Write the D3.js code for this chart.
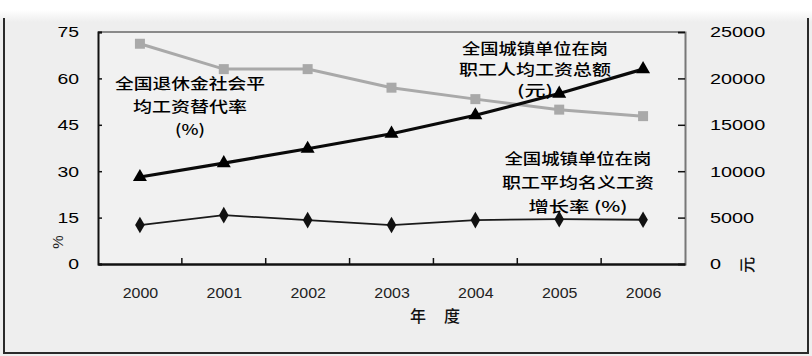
<!DOCTYPE html>
<html>
<head>
<meta charset="utf-8">
<script src="https://cdn.jsdelivr.net/npm/d3@7"></script>
<style>
  body { margin: 0; background: #fff; }
  svg { display: block; }
</style>
</head>
<body>
<svg id="chart" width="812" height="356"></svg>
<script>
// Years on the category axis
const years = ["2000", "2001", "2002", "2003", "2004", "2005", "2006"];
// Pension replacement rate (%), left axis
const replacementRate = [71.2, 63.0, 63.0, 57.0, 53.3, 49.9, 47.8];
// Nominal average wage growth (%), left axis
const wageGrowth = [12.6, 15.8, 14.2, 12.6, 14.2, 14.5, 14.3];
// Average annual wage (yuan), right axis
const avgWage = [9371, 10870, 12422, 14040, 16024, 18364, 21001];
// Tick values
const pctTicks = [0, 15, 30, 45, 60, 75];
const yuanTicks = [0, 5000, 10000, 15000, 20000, 25000];
// Tick labels of the category axis (as printed)
const yearLabels = ["2000", "2001", "2002", "2003", "2004", "2005", "2006"];

const svg = d3.select("#chart");
const W = 812, H = 356;
const plot = { left: 98, right: 685, top: 32, bottom: 264 };

// widen a text element horizontally by factor k
function stretch(sel, k) {
  sel.each(function () {
    const w = this.getComputedTextLength();
    this.setAttribute("textLength", w * k);
    this.setAttribute("lengthAdjust", "spacingAndGlyphs");
  });
}

// Page background and frame
const defs = svg.append("defs");
const grad = defs.append("linearGradient").attr("id", "topfade")
  .attr("x1", 0).attr("x2", 0).attr("y1", 0).attr("y2", 1);
grad.append("stop").attr("offset", "0%").attr("stop-color", "#ffffff");
grad.append("stop").attr("offset", "100%").attr("stop-color", "#eeeeee");

svg.append("rect").attr("width", W).attr("height", H).attr("fill", "#ffffff");
svg.append("rect").attr("x", 0).attr("y", 10).attr("width", W).attr("height", 12).attr("fill", "url(#topfade)");
svg.append("rect").attr("x", 0).attr("y", 22).attr("width", W).attr("height", H - 22).attr("fill", "#eeeeee");

const frame = svg.append("g").attr("stroke", "#2a2a2a").attr("stroke-width", 2).attr("fill", "none");
frame.append("line").attr("x1", 4).attr("x2", 4).attr("y1", 18).attr("y2", 354);
frame.append("line").attr("x1", 808).attr("x2", 808).attr("y1", 18).attr("y2", 354);
frame.append("line").attr("x1", 3).attr("x2", 809).attr("y1", 353).attr("y2", 353);

// Plot area
svg.append("rect")
  .attr("x", plot.left).attr("y", plot.top)
  .attr("width", plot.right - plot.left).attr("height", plot.bottom - plot.top)
  .attr("fill", "#f1f1f1");

// Scales
const xBand = d3.scaleBand().domain(years).range([plot.left, plot.right]).padding(0);
const x = d3.scalePoint().domain(years).range([plot.left, plot.right]).padding(0.5);
const yPct = d3.scaleLinear().domain([0, 75]).range([plot.bottom, plot.top]);
const yYuan = d3.scaleLinear().domain([0, 25000]).range([plot.bottom, plot.top]);

const tickFont = "'Liberation Sans', Arial, sans-serif";
const cjkFont = "'Noto Sans CJK SC', 'Noto Sans', sans-serif";

// Plot border line on top (gray)
svg.append("line").attr("x1", plot.left).attr("x2", plot.right)
  .attr("y1", plot.top).attr("y2", plot.top)
  .attr("stroke", "#8a8a8a").attr("stroke-width", 2);

// Left axis
const leftAxis = svg.append("g")
  .attr("transform", `translate(${plot.left},0)`)
  .call(d3.axisLeft(yPct).tickValues(pctTicks).tickSize(-4).tickPadding(19));
leftAxis.select(".domain").attr("stroke", "#111").attr("stroke-width", 2);
leftAxis.selectAll(".tick line").attr("stroke", "#111").attr("stroke-width", 1.5);
leftAxis.selectAll(".tick text")
  .attr("font-family", tickFont).attr("font-size", 15.5).attr("fill", "#000");
stretch(leftAxis.selectAll(".tick text"), 1.25);

// Right axis
const rightAxis = svg.append("g")
  .attr("transform", `translate(${plot.right},0)`)
  .call(d3.axisRight(yYuan).tickValues(yuanTicks).tickSize(-7).tickPadding(25).tickFormat(d3.format("d")));
rightAxis.select(".domain").attr("stroke", "#777").attr("stroke-width", 2);
rightAxis.selectAll(".tick line").attr("stroke", "#111").attr("stroke-width", 1.5);
rightAxis.selectAll(".tick text")
  .attr("font-family", tickFont).attr("font-size", 15.5).attr("fill", "#000");
stretch(rightAxis.selectAll(".tick text"), 1.28);

// Bottom axis: labels at category centres, ticks at category boundaries
const bottomAxis = svg.append("g")
  .attr("transform", `translate(0,${plot.bottom})`)
  .call(d3.axisBottom(x).tickSize(0).tickPadding(24).tickFormat((d, i) => yearLabels[i]));
bottomAxis.select(".domain").attr("stroke", "#111").attr("stroke-width", 2.5);
bottomAxis.selectAll(".tick text")
  .attr("font-family", tickFont).attr("font-size", 14.5).attr("fill", "#222");
stretch(bottomAxis.selectAll(".tick text"), 1.1);

svg.append("g").selectAll("line")
  .data(years.slice(1))
  .join("line")
  .attr("x1", d => xBand(d)).attr("x2", d => xBand(d))
  .attr("y1", plot.bottom).attr("y2", plot.bottom - 6)
  .attr("stroke", "#111").attr("stroke-width", 1.5);

// Series: replacement rate (gray, squares)
const linePct = d3.line().x((d, i) => x(years[i])).y(d => yPct(d));
const lineYuan = d3.line().x((d, i) => x(years[i])).y(d => yYuan(d));

svg.append("path").datum(replacementRate)
  .attr("d", linePct).attr("fill", "none")
  .attr("stroke", "#a9a9a9").attr("stroke-width", 3);
svg.append("g").selectAll("path")
  .data(replacementRate)
  .join("path")
  .attr("transform", (d, i) => `translate(${x(years[i])},${yPct(d)})`)
  .attr("d", d3.symbol(d3.symbolSquare, 100))
  .attr("fill", "#a9a9a9");

// Series: wage growth (thin black, diamonds)
svg.append("path").datum(wageGrowth)
  .attr("d", linePct).attr("fill", "none")
  .attr("stroke", "#1a1a1a").attr("stroke-width", 1.8);
svg.append("g").selectAll("path")
  .data(wageGrowth)
  .join("path")
  .attr("transform", (d, i) => `translate(${x(years[i])},${yPct(d)})`)
  .attr("d", d3.symbol(d3.symbolDiamond, 80))
  .attr("fill", "#111");

// Series: average wage (thick black, triangles)
svg.append("path").datum(avgWage)
  .attr("d", lineYuan).attr("fill", "none")
  .attr("stroke", "#0a0a0a").attr("stroke-width", 3.2);
svg.append("g").selectAll("path")
  .data(avgWage)
  .join("path")
  .attr("transform", (d, i) => `translate(${x(years[i])},${yYuan(d)})`)
  .attr("d", d3.symbol(d3.symbolTriangle, 85))
  .attr("fill", "#000");

// Series labels
function label(lines, cx, y0, dy, widths) {
  const g = svg.append("g");
  lines.forEach((t, i) => {
    g.append("text")
      .attr("x", cx).attr("y", y0 + i * dy)
      .attr("text-anchor", "middle")
      .attr("dominant-baseline", "central")
      .attr("font-family", cjkFont).attr("font-size", 15)
      .attr("font-weight", 500)
      .attr("fill", "#000")
      .attr("textLength", widths[i])
      .attr("lengthAdjust", "spacingAndGlyphs")
      .text(t);
  });
}
label(["全国退休金社会平", "均工资替代率", "(%)"], 190, 82, 23, [150, 114, 30]);
label(["全国城镇单位在岗", "职工人均工资总额", "(元)"], 535, 47, 21, [146, 152, 36]);
label(["全国城镇单位在岗", "职工平均名义工资", "增长率 (%)"], 578, 157, 24, [147, 152, 99]);

// Axis titles
svg.append("text")
  .attr("transform", "translate(57,242) rotate(-90)")
  .attr("text-anchor", "middle").attr("dominant-baseline", "central")
  .attr("font-family", tickFont).attr("font-size", 15).attr("fill", "#222")
  .text("%");
svg.append("text")
  .attr("transform", "translate(746,265) rotate(-90)")
  .attr("text-anchor", "middle").attr("dominant-baseline", "central")
  .attr("font-family", cjkFont).attr("font-size", 16).attr("font-weight", 500).attr("fill", "#111")
  .text("元");
svg.append("g").selectAll("text")
  .data(["年", "度"])
  .join("text")
  .attr("x", (d, i) => 418 + i * 34).attr("y", 315)
  .attr("text-anchor", "middle").attr("dominant-baseline", "central")
  .attr("font-family", cjkFont).attr("font-size", 16).attr("font-weight", 500).attr("fill", "#111")
  .text(d => d);
</script>
</body>
</html>
